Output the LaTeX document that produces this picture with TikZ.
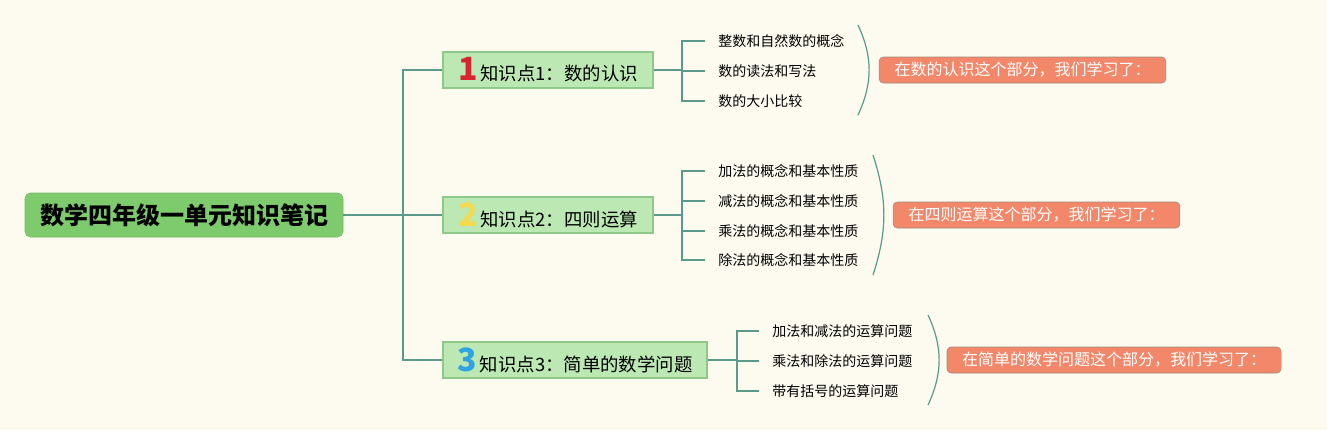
\documentclass[tikz,border=0pt]{standalone}
\usepackage{fontspec}
\setmainfont{Noto Sans CJK SC}
\usepackage{tikz}
\usetikzlibrary{positioning,calc}
\definecolor{Paper}{HTML}{FDFBF0}
\definecolor{RootFill}{HTML}{7ECB6E}
\definecolor{TopicFill}{HTML}{BCE9B3}
\definecolor{TopicLine}{HTML}{8FC98A}
\definecolor{Link}{HTML}{5B9A8B}
\definecolor{NoteFill}{HTML}{F2876A}
\definecolor{NoteLine}{HTML}{9E8A78}
\definecolor{NumRed}{HTML}{D7262F}
\definecolor{NumYellow}{HTML}{F5D94E}
\definecolor{NumBlue}{HTML}{2FA4E0}

\tikzset{
  rootbox/.style={fill=RootFill, draw=RootFill!90!black, rounded corners=4pt,
    minimum width=238.5pt, minimum height=33pt, font=\fontsize{18}{20}\selectfont\bfseries},
  topicbox/.style={fill=TopicFill, draw=TopicLine, line width=0.8pt,
    minimum height=27pt, inner ysep=0pt, font=\fontsize{13.8}{15}\selectfont},
  leaftext/.style={anchor=west, inner xsep=9.75pt, inner ysep=1pt,
    font=\fontsize{10.5}{12}\selectfont},
  notebox/.style={fill=NoteFill, draw=NoteLine, rounded corners=3pt,
    minimum height=19.5pt, text=white, font=\fontsize{12}{14}\selectfont},
  link/.style={draw=Link, line width=1.4pt},
  brace/.style={draw=Link, line width=0.9pt}
}
\newcommand{\knum}[2]{{\color{#1}\fontsize{24}{24}\selectfont\bfseries #2}\,}

\begin{document}
\begin{tikzpicture}[x=0.75pt,y=-0.75pt]
  \fill[Paper] (0,0) rectangle (1327,430);
  \useasboundingbox (0,0) rectangle (1327,430);

  % ---------------------------------------------------------
  % ROOT
  % ---------------------------------------------------------

  \node[rootbox] (root) at (184,215) {数学四年级一单元知识笔记};
  \coordinate (trunk) at (403,215);

  % ---------------------------------------------------------
  % TOPICS
  % ---------------------------------------------------------

  \node[topicbox, minimum width=157.5pt] (num) at (548,70)
    {\knum{NumRed}{1}知识点1：数的认识};

  \node[topicbox, minimum width=157.5pt] (ops) at (548,215)
    {\knum{NumYellow}{2}知识点2：四则运算};

  \node[topicbox, minimum width=198pt] (prob) at (575,360)
    {\knum{NumBlue}{3}知识点3：简单的数学问题};

  % ---------------------------------------------------------
  % LEAVES
  % ---------------------------------------------------------

  \node[leaftext] (num1) at (705,41) {整数和自然数的概念};
  \node[leaftext] (num2) at (705,71) {数的读法和写法};
  \node[leaftext] (num3) at (705,101) {数的大小比较};

  \node[leaftext] (ops1) at (705,171) {加法的概念和基本性质};
  \node[leaftext] (ops2) at (705,201) {减法的概念和基本性质};
  \node[leaftext] (ops3) at (705,231) {乘法的概念和基本性质};
  \node[leaftext] (ops4) at (705,260) {除法的概念和基本性质};

  \node[leaftext] (prob1) at (759,331) {加法和减法的运算问题};
  \node[leaftext] (prob2) at (759,361) {乘法和除法的运算问题};
  \node[leaftext] (prob3) at (759,391) {带有括号的运算问题};

  \coordinate (numfork) at (682,70);
  \coordinate (opsfork) at (682,215);
  \coordinate (probfork) at (737,360);

  % ---------------------------------------------------------
  % SUMMARIES
  % ---------------------------------------------------------

  \node[notebox, minimum width=215pt] (numnote) at (1022.5,70)
    {在数的认识这个部分，我们学习了：};
  \node[notebox, minimum width=215pt] (opsnote) at (1036.5,215)
    {在四则运算这个部分，我们学习了：};
  \node[notebox, minimum width=250.5pt] (probnote) at (1114,360)
    {在简单的数学问题这个部分，我们学习了：};

  \coordinate (numtop) at (858,25);
  \coordinate (numbot) at (858,115);
  \coordinate (opstop) at (873,155);
  \coordinate (opsbot) at (873,275);
  \coordinate (probtop) at (928,315);
  \coordinate (probbot) at (928,405);

  % ---------------------------------------------------------
  % CONNECTORS
  % ---------------------------------------------------------

  \draw[link] (root.east) -- (trunk);
  \draw[link] (trunk) |- (num.west);
  \draw[link] (trunk) -- (ops.west);
  \draw[link] (trunk) |- (prob.west);

  \draw[link] (num.east) -- (numfork);
  \foreach \leaf in {num1,num2,num3}
    \draw[link] (numfork) |- (\leaf.west);

  \draw[link] (ops.east) -- (opsfork);
  \foreach \leaf in {ops1,ops2,ops3,ops4}
    \draw[link] (opsfork) |- (\leaf.west);

  \draw[link] (prob.east) -- (probfork);
  \foreach \leaf in {prob1,prob2,prob3}
    \draw[link] (probfork) |- (\leaf.west);

  \draw[brace] (numtop) to[bend left=25] (numbot);
  \draw[brace] (opstop) to[bend left=18] (opsbot);
  \draw[brace] (probtop) to[bend left=25] (probbot);

\end{tikzpicture}
\end{document}
